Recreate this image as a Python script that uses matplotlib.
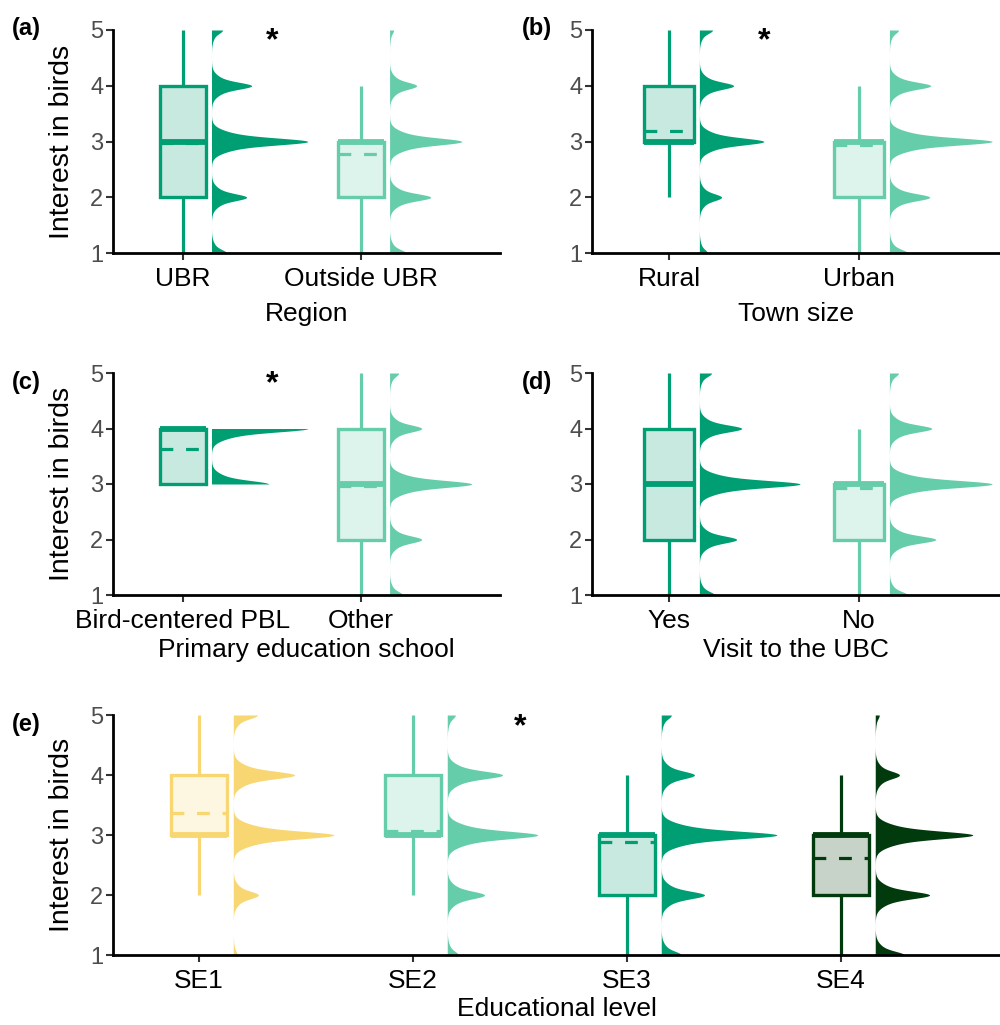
import numpy as np
import matplotlib
matplotlib.use("Agg")
import matplotlib.pyplot as plt
from matplotlib.patches import Rectangle

plt.rcParams['font.family'] = ['Liberation Sans', 'DejaVu Sans']

DARK = '#009E73'
LIGHT = '#66CDAA'
YELLOW = '#F8D772'
DEEP = '#013A0C'

levels = np.array([1, 2, 3, 4, 5])

# relative frequency of each answer (1..5), read from the half-violins
# box stats: (whisker low, Q1, median, Q3, whisker high, mean)
region_groups = ['UBR', 'Outside UBR']
region_freq = [[15, 35, 96, 40, 11], [16, 41, 72, 27, 4]]
region_box = [(1, 2, 3, 4, 5, 2.98), (1, 2, 3, 3, 4, 2.77)]

town_groups = ['Rural', 'Urban']
town_freq = [[8, 22, 64, 34, 13], [18, 40, 102, 41, 9]]
town_box = [(2, 3, 3, 4, 5, 3.18), (1, 2, 3, 3, 4, 2.93)]

school_groups = ['Bird-centered PBL', 'Other']
school_freq = [[0, 0, 57, 96, 0], [13, 32, 82, 32, 9]]
school_box = [(3, 3, 4, 4, 4, 3.63), (1, 2, 3, 4, 5, 2.97)]

visit_groups = ['Yes', 'No']
visit_freq = [[15, 37, 100, 42, 12], [18, 46, 102, 42, 9]]
visit_box = [(1, 2, 3, 4, 5, 3.0), (1, 2, 3, 3, 4, 2.93)]

level_groups = ['SE1', 'SE2', 'SE3', 'SE4']
level_freq = [[4, 25, 100, 61, 24], [11, 37, 90, 55, 8],
              [20, 43, 115, 33, 10], [29, 54, 97, 24, 4]]
level_box = [(2, 3, 3, 4, 5, 3.37), (2, 3, 3, 4, 5, 3.06),
             (1, 2, 3, 3, 4, 2.88), (1, 2, 3, 3, 4, 2.62)]


def kernel(d):
    # narrow + wide gaussian, peak = 1
    return 0.55 * np.exp(-d**2 / (2 * 0.055**2)) + 0.45 * np.exp(-d**2 / (2 * 0.13**2))


def draw_panel(ax, groups, freqs, boxes, colors, xlabel, xlim, ylabel=None, star=None,
               xpad=8):
    curves = []
    for f in freqs:
        f = np.array(f, dtype=float)
        present = levels[f > 0]
        y = np.linspace(present.min(), present.max(), 600)
        d = (f[None, :] * kernel(y[:, None] - levels[None, :])).sum(axis=1)
        curves.append((y, d))
    dmax = max(d.max() for _, d in curves)

    bw = 0.26
    for i, (g, (y, d), st, c) in enumerate(zip(groups, curves, boxes, colors)):
        x = i + 1
        lo, q1, med, q3, hi, mean = st
        # half violin
        x0 = x + 0.16
        ax.fill_betweenx(y, x0, x0 + 0.54 * d / dmax, color=c, lw=0, zorder=2)
        # whiskers
        ax.plot([x, x], [q3, hi], color=c, lw=2.3, solid_capstyle='butt', zorder=2)
        ax.plot([x, x], [lo, q1], color=c, lw=2.3, solid_capstyle='butt', zorder=2)
        # box
        ax.add_patch(Rectangle((x - bw / 2, q1), bw, q3 - q1, facecolor=c, alpha=0.22,
                               edgecolor='none', zorder=3))
        ax.plot([x - bw / 2, x + bw / 2], [med, med], color=c, lw=4.2,
                solid_capstyle='butt', zorder=4)
        ax.plot([x - bw / 2, x + bw / 2], [mean, mean], color=c, lw=2.3,
                ls=(0, (4, 4)), zorder=4)
        ax.add_patch(Rectangle((x - bw / 2, q1), bw, q3 - q1, facecolor='none',
                               edgecolor=c, lw=2.4, zorder=5))

    ax.set_xlim(*xlim)
    ax.set_ylim(1, 5)
    ax.set_xticks(range(1, len(groups) + 1))
    ax.set_xticklabels(groups, fontsize=19, color='black')
    ax.set_yticks([1, 2, 3, 4, 5])
    ax.tick_params(axis='y', labelsize=17, labelcolor='#4D4D4D', length=5, width=1.5,
                   color='#333333', pad=2)
    ax.tick_params(axis='x', length=5, width=1.5, color='#333333', pad=5)
    for s in ['top', 'right']:
        ax.spines[s].set_visible(False)
    for s in ['left', 'bottom']:
        ax.spines[s].set_linewidth(2.0)
    ax.set_xlabel(xlabel, fontsize=19, labelpad=xpad)
    if ylabel:
        ax.set_ylabel(ylabel, fontsize=20.5)
        width_px = ax.get_position().width * 1000
        ax.yaxis.set_label_coords(-38 / width_px, 0.5)
    if star is not None:
        ax.text(star, 4.8, '*', ha='center', va='center', fontsize=23,
                fontweight='bold', zorder=6)


fig = plt.figure(figsize=(10, 10.25), dpi=100)
H = 1025.0
ax_a = fig.add_axes([0.113, 1 - 253 / H, 0.387, 223 / H])
ax_b = fig.add_axes([0.592, 1 - 253 / H, 0.408, 223 / H])
ax_c = fig.add_axes([0.113, 1 - 595 / H, 0.387, 222 / H])
ax_d = fig.add_axes([0.592, 1 - 595 / H, 0.408, 222 / H])
ax_e = fig.add_axes([0.113, 1 - 955 / H, 0.887, 240 / H])

draw_panel(ax_a, region_groups, region_freq, region_box, [DARK, LIGHT], 'Region',
           (0.607, 2.78), 'Interest in birds', star=1.5)
draw_panel(ax_b, town_groups, town_freq, town_box, [DARK, LIGHT], 'Town size',
           (0.595, 2.742), star=1.5)
draw_panel(ax_c, school_groups, school_freq, school_box, [DARK, LIGHT],
           'Primary education school', (0.607, 2.78), 'Interest in birds', star=1.5,
           xpad=4)
draw_panel(ax_d, visit_groups, visit_freq, visit_box, [DARK, LIGHT], 'Visit to the UBC',
           (0.595, 2.742), xpad=4)
draw_panel(ax_e, level_groups, level_freq, level_box, [YELLOW, LIGHT, DARK, DEEP],
           'Educational level', (0.598, 4.743), 'Interest in birds', star=2.5, xpad=3)

for lab, x, y in [('(a)', 12, 29), ('(b)', 522, 29), ('(c)', 12, 383),
                  ('(d)', 522, 383), ('(e)', 12, 724)]:
    fig.text(x / 1000, 1 - y / H, lab, fontsize=17, fontweight='bold',
             ha='left', va='center')

fig.savefig('out.png', dpi=100)
